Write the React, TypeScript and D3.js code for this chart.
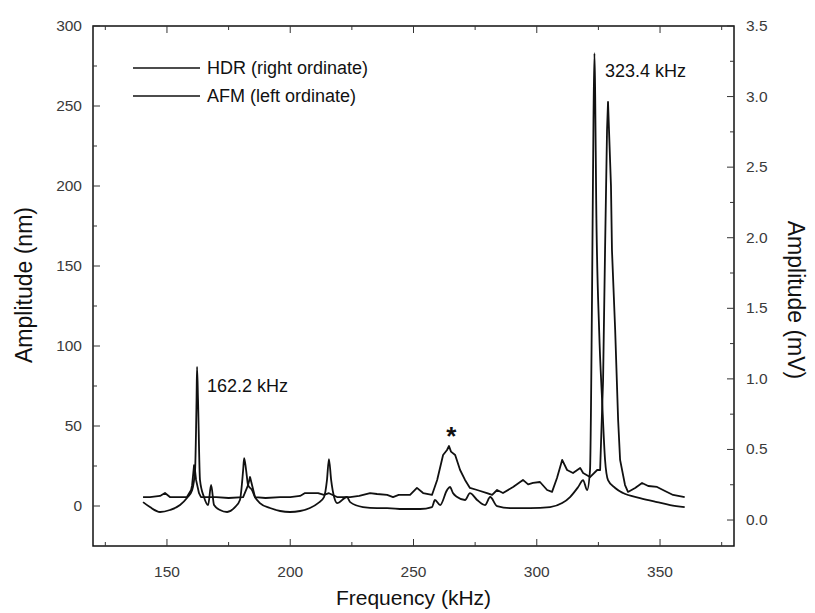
import React from "react";
import * as d3 from "d3";

// HDR (right ordinate, mV)
const hdrFreq = [140.3, 143.1, 147.2, 151.2, 155.3, 158.1, 160.2, 161.4, 162.0, 162.2, 162.6, 163.4, 165.0, 166.7, 167.9, 169.1, 171.5, 174.4, 177.6, 179.6, 180.9, 181.3, 182.1, 182.9, 184.5, 185.7, 187.7, 191.8, 195.9, 199.9, 204.0, 208.0, 211.3, 213.7, 214.9, 215.7, 216.6, 217.8, 219.0, 223.0, 224.3, 229.5, 235.2, 239.3, 245.8, 252.7, 257.5, 258.7, 260.8, 263.6, 264.8, 266.0, 267.7, 270.9, 272.9, 275.8, 279.0, 281.1, 283.9, 289.2, 297.3, 305.4, 310.3, 313.5, 316.8, 318.8, 320.4, 321.6, 322.4, 323.0, 323.4, 323.7, 324.1, 325.3, 326.5, 327.7, 328.9, 331.8, 335.0, 341.9, 348.8, 354.1, 360.0];
const hdrMv = [0.127, 0.092, 0.057, 0.071, 0.106, 0.156, 0.212, 0.354, 0.85, 1.084, 0.85, 0.283, 0.163, 0.106, 0.248, 0.106, 0.071, 0.057, 0.092, 0.142, 0.354, 0.439, 0.354, 0.248, 0.212, 0.163, 0.12, 0.085, 0.064, 0.057, 0.064, 0.085, 0.12, 0.163, 0.283, 0.432, 0.283, 0.163, 0.12, 0.163, 0.127, 0.092, 0.085, 0.085, 0.078, 0.078, 0.092, 0.142, 0.106, 0.212, 0.234, 0.191, 0.163, 0.142, 0.191, 0.142, 0.106, 0.163, 0.099, 0.085, 0.085, 0.092, 0.12, 0.163, 0.234, 0.283, 0.212, 0.354, 1.558, 2.833, 3.307, 3.0, 2.266, 1.346, 0.85, 0.425, 0.283, 0.227, 0.191, 0.156, 0.127, 0.106, 0.092];

// AFM (left ordinate, nm)
const afmFreq = [140.3, 143.1, 147.2, 149.2, 151.2, 155.3, 158.1, 159.8, 160.2, 161.0, 161.4, 161.8, 163.0, 163.8, 166.2, 170.0, 175.0, 180.9, 182.9, 183.7, 184.5, 185.7, 190.0, 195.9, 200.0, 204.0, 206.0, 211.3, 213.7, 215.7, 219.0, 224.3, 228.0, 232.4, 235.2, 239.3, 241.7, 244.0, 248.6, 251.4, 253.9, 257.5, 259.6, 262.0, 263.6, 264.4, 265.2, 266.9, 268.9, 270.9, 272.9, 275.8, 279.8, 281.9, 283.9, 286.3, 290.4, 294.4, 296.5, 298.5, 301.3, 304.2, 306.2, 308.2, 310.3, 312.3, 314.7, 317.6, 318.8, 321.6, 324.5, 325.7, 326.9, 327.7, 328.5, 328.9, 330.1, 330.5, 331.8, 333.0, 333.8, 335.8, 337.0, 339.9, 342.7, 345.2, 348.8, 352.0, 355.3, 360.0];
const afmNm = [5.6, 5.6, 6.3, 8.1, 5.6, 5.6, 5.6, 10, 13, 25.6, 22, 16.3, 8, 5.6, 5.6, 5.6, 5.0, 5.6, 13.1, 18.1, 13.1, 5.6, 5.0, 5.6, 5.6, 6.3, 8.1, 8.1, 6.9, 8, 5.6, 5.6, 6.3, 8.1, 7.5, 6.9, 5.6, 6.9, 6.9, 11.3, 8.1, 6.9, 16.3, 31.9, 35, 37.5, 34, 31.9, 22.5, 16.3, 11.3, 10, 8.1, 6.9, 10, 8.1, 11.9, 16.3, 13.5, 14.4, 15, 10, 8.8, 17.5, 28.8, 22.5, 20.6, 23.8, 20.6, 18.1, 22.5, 22.5, 78.8, 160, 235, 252.5, 200, 160, 110, 53.8, 28.8, 13.1, 8.8, 11.3, 14.4, 12.5, 11.9, 9.4, 6.9, 5.6];

const xMajor = [150, 200, 250, 300, 350];
const xMinor = [125, 175, 225, 275, 325, 375];
const leftMajor = [0, 50, 100, 150, 200, 250, 300];
const leftMinor = [25, 75, 125, 175, 225, 275];
const rightMajor = [0, 0.5, 1.0, 1.5, 2.0, 2.5, 3.0, 3.5];
const rightMinor = [0.25, 0.75, 1.25, 1.75, 2.25, 2.75, 3.25];
const legendLabels = ["HDR (right ordinate)", "AFM (left ordinate)"];

const W = 815, H = 613;
const L = 93, R = 734, T = 26, B = 546;
const FONT = "'Liberation Sans', Arial, Helvetica, sans-serif";

export default function App() {
  const x = d3.scaleLinear().domain([120, 380]).range([L, R]);
  const yL = d3.scaleLinear().domain([-25, 300]).range([B, T]);
  const yR = d3.scaleLinear().domain([-0.184, 3.5]).range([B, T]);

  const hdrData = hdrFreq.map((f, i) => [f, hdrMv[i]] as [number, number]);
  const afmData = afmFreq.map((f, i) => [f, afmNm[i]] as [number, number]);
  const hdrLine = d3.line<[number, number]>().x(d => x(d[0])).y(d => yR(d[1])).curve(d3.curveMonotoneX);
  const afmLine = d3.line<[number, number]>().x(d => x(d[0])).y(d => yL(d[1]));

  const stroke = "#111";
  const tickColor = "#333";
  const labelColor = "#3a3a3a";

  return (
    <svg width={W} height={H} style={{ position: "absolute", left: 0, top: 0, background: "#fff" }} fontFamily={FONT}>
      <rect x={0} y={0} width={W} height={H} fill="#fff" />
      {/* data */}
      <path d={afmLine(afmData) || ""} fill="none" stroke={stroke} strokeWidth={1.8} strokeLinejoin="round" />
      <path d={hdrLine(hdrData) || ""} fill="none" stroke={stroke} strokeWidth={1.8} strokeLinejoin="round" />

      {/* frame */}
      <rect x={L} y={T} width={R - L} height={B - T} fill="none" stroke={stroke} strokeWidth={1.5} />

      {/* x ticks bottom and top */}
      {xMajor.map(v => (
        <g key={"xm" + v}>
          <line x1={x(v)} x2={x(v)} y1={B} y2={B - 7} stroke={tickColor} strokeWidth={1} />
          <line x1={x(v)} x2={x(v)} y1={T} y2={T + 7} stroke={tickColor} strokeWidth={1} />
          <text x={x(v)} y={577} textAnchor="middle" fontSize={15.5} fill={labelColor}>{v}</text>
        </g>
      ))}
      {xMinor.map(v => (
        <g key={"xn" + v}>
          <line x1={x(v)} x2={x(v)} y1={B} y2={B - 4} stroke={tickColor} strokeWidth={1} />
          <line x1={x(v)} x2={x(v)} y1={T} y2={T + 4} stroke={tickColor} strokeWidth={1} />
        </g>
      ))}

      {/* left ticks */}
      {leftMajor.map(v => (
        <g key={"lm" + v}>
          <line x1={L} x2={L + 7} y1={yL(v)} y2={yL(v)} stroke={tickColor} strokeWidth={1} />
          <text x={82} y={yL(v) + 5} textAnchor="end" fontSize={15.5} fill={labelColor}>{v}</text>
        </g>
      ))}
      {leftMinor.map(v => (
        <line key={"ln" + v} x1={L} x2={L + 4} y1={yL(v)} y2={yL(v)} stroke={tickColor} strokeWidth={1} />
      ))}

      {/* right ticks */}
      {rightMajor.map(v => (
        <g key={"rm" + v}>
          <line x1={R} x2={R - 7} y1={yR(v)} y2={yR(v)} stroke={tickColor} strokeWidth={1} />
          <text x={746} y={yR(v) + 5} textAnchor="start" fontSize={15.5} fill={labelColor}>{v.toFixed(1)}</text>
        </g>
      ))}
      {rightMinor.map(v => (
        <line key={"rn" + v} x1={R} x2={R - 4} y1={yR(v)} y2={yR(v)} stroke={tickColor} strokeWidth={1} />
      ))}

      {/* axis titles */}
      <text x={(L + R) / 2} y={605} textAnchor="middle" fontSize={21} fill="#111">Frequency (kHz)</text>
      <text transform={`translate(32, 285) rotate(-90)`} textAnchor="middle" fontSize={23} fill="#111">Amplitude (nm)</text>
      <text transform={`translate(788, 300) rotate(90)`} textAnchor="middle" fontSize={23} fill="#111">Amplitude (mV)</text>

      {/* legend */}
      {legendLabels.map((lab, i) => (
        <g key={lab}>
          <line x1={133} x2={200} y1={68 + i * 28} y2={68 + i * 28} stroke={stroke} strokeWidth={1.5} />
          <text x={207} y={74 + i * 28} fontSize={18} fill="#111">{lab}</text>
        </g>
      ))}

      {/* annotations */}
      <text x={207} y={392} fontSize={18} fill="#111">162.2 kHz</text>
      <text x={605} y={77} fontSize={18} fill="#111">323.4 kHz</text>
      <text x={x(265.3)} y={445} textAnchor="middle" fontSize={26} fontWeight="bold" fill="#111">*</text>
    </svg>
  );
}
